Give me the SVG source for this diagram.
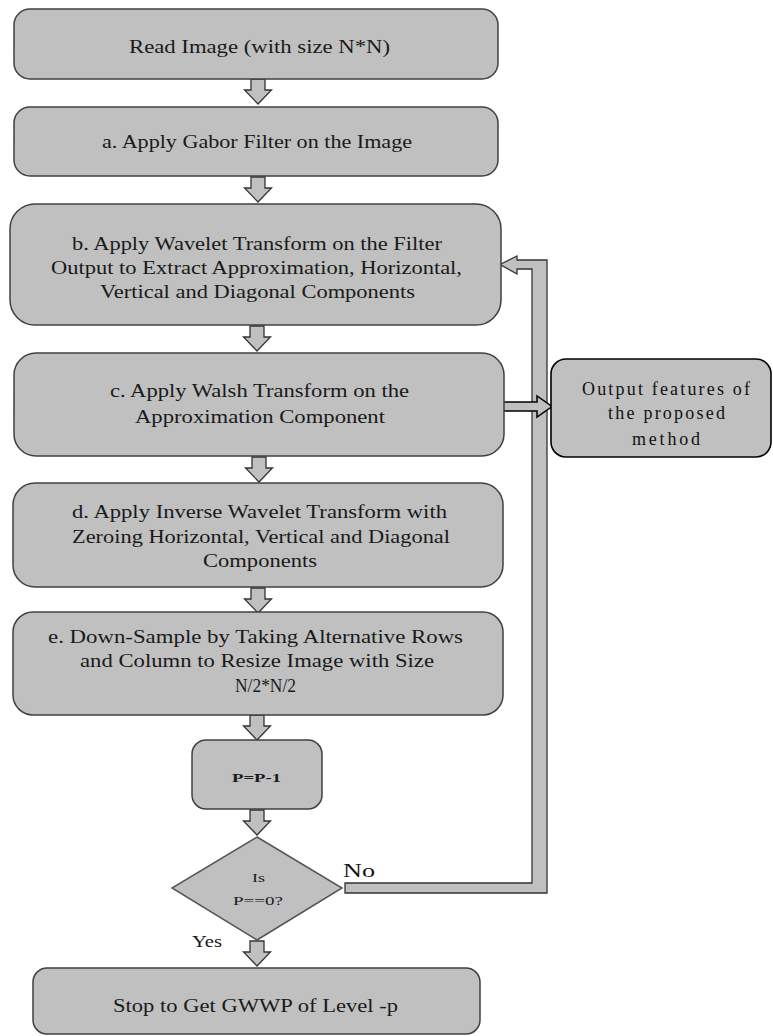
<svg xmlns="http://www.w3.org/2000/svg" width="773" height="1036" viewBox="0 0 773 1036">
<style>
.box{fill:#c0c0c0;stroke:#404040;stroke-width:1.5}
.out{fill:#c0c0c0;stroke:#000;stroke-width:1.6}
.arr{fill:#c0c0c0;stroke:#333;stroke-width:1.3;stroke-linejoin:miter}
.t{font-family:"Liberation Serif","Times New Roman",serif;font-size:19px;fill:#1a1a1a}
.s{font-family:"Liberation Serif","Times New Roman",serif;font-size:13px;fill:#1a1a1a}
.o{font-family:"Liberation Serif","Times New Roman",serif;font-size:18px;fill:#111}
</style>
<defs>
<path id="down" d="M-7,0 H7 V11 H13.5 L0,25 L-13.5,11 H-7 Z"/>
</defs>
<g id="connectors">
<use href="#down" class="arr" x="258" y="79"/>
<use href="#down" class="arr" x="258" y="177"/>
<use href="#down" class="arr" x="257" y="326"/>
<use href="#down" class="arr" x="259" y="457"/>
<use href="#down" class="arr" x="258" y="588"/>
<use href="#down" class="arr" x="257" y="715"/>
<use href="#down" class="arr" x="257" y="810"/>
<use href="#down" class="arr" x="257" y="941"/>
<polygon class="arr" points="500,264.5 517,256 517,260 547,260 547,893 345,893 345,883 532,883 532,269 517,269 517,274"/>
<polygon class="arr" style="stroke:#000;stroke-width:1.5" points="493,402 537,402 537,396 552,406.5 537,417 537,411 493,411"/>
<text class="o" x="343" y="877" textLength="32" lengthAdjust="spacingAndGlyphs">No</text>
<text class="t" x="192" y="947" font-size="16" style="font-size:16px" textLength="30" lengthAdjust="spacingAndGlyphs">Yes</text>
</g>
<g id="read">
<rect class="box" x="14" y="9" width="484" height="70" rx="16"/>
<text class="t" x="129" y="53" textLength="261" lengthAdjust="spacingAndGlyphs">Read Image (with size N*N)</text>
</g>
<g id="gabor">
<rect class="box" x="14" y="107" width="484" height="69" rx="16"/>
<text class="t" x="102" y="148" textLength="310" lengthAdjust="spacingAndGlyphs">a. Apply Gabor Filter on the Image</text>
</g>
<g id="wavelet">
<rect class="box" x="10" y="204" width="491" height="121" rx="25"/>
<text class="t" x="72" y="250" textLength="370" lengthAdjust="spacingAndGlyphs">b. Apply Wavelet Transform on the Filter</text>
<text class="t" x="51" y="274" textLength="411" lengthAdjust="spacingAndGlyphs">Output to Extract Approximation, Horizontal,</text>
<text class="t" x="100" y="298" textLength="315" lengthAdjust="spacingAndGlyphs">Vertical and Diagonal Components</text>
</g>
<g id="walsh">
<rect class="box" x="14" y="353" width="490" height="103" rx="22"/>
<text class="t" x="110" y="397" textLength="299" lengthAdjust="spacingAndGlyphs">c. Apply Walsh Transform on the</text>
<text class="t" x="135" y="423" textLength="250" lengthAdjust="spacingAndGlyphs">Approximation Component</text>
</g>
<g id="inverse">
<rect class="box" x="13" y="483" width="490" height="104" rx="22"/>
<text class="t" x="72" y="518" textLength="375" lengthAdjust="spacingAndGlyphs">d. Apply Inverse Wavelet Transform with</text>
<text class="t" x="72" y="543" textLength="378" lengthAdjust="spacingAndGlyphs">Zeroing Horizontal, Vertical and Diagonal</text>
<text class="t" x="203" y="567" textLength="114" lengthAdjust="spacingAndGlyphs">Components</text>
</g>
<g id="downsample">
<rect class="box" x="13" y="612" width="490" height="103" rx="20"/>
<text class="t" x="48" y="643" textLength="415" lengthAdjust="spacingAndGlyphs">e. Down-Sample by Taking Alternative Rows</text>
<text class="t" x="80" y="667" textLength="354" lengthAdjust="spacingAndGlyphs">and Column to Resize Image with Size</text>
<text class="t" x="235" y="692" textLength="61" lengthAdjust="spacingAndGlyphs">N/2*N/2</text>
</g>
<g id="decrement">
<rect class="box" x="192" y="740" width="130" height="69" rx="14"/>
<text class="s" x="232" y="782" font-weight="bold" textLength="49" lengthAdjust="spacingAndGlyphs">P=P-1</text>
</g>
<g id="decision">
<polygon class="box" style="stroke:#555" points="257,837 342,888 257,940 172,888"/>
<text class="s" x="252" y="882" textLength="13" lengthAdjust="spacingAndGlyphs">Is</text>
<text class="s" x="233" y="905" textLength="50" lengthAdjust="spacingAndGlyphs">P==0?</text>
</g>
<g id="stop">
<rect class="box" x="33" y="968" width="447" height="66" rx="14"/>
<text class="t" x="113" y="1012" textLength="285" lengthAdjust="spacingAndGlyphs">Stop to Get GWWP of Level -p</text>
</g>
<g id="output">
<rect class="out" x="551" y="359" width="220" height="98" rx="15"/>
<text class="o" x="582" y="395" textLength="168" lengthAdjust="spacing">Output features of</text>
<text class="o" x="608" y="419" textLength="117" lengthAdjust="spacing">the proposed</text>
<text class="o" x="632" y="445" textLength="68" lengthAdjust="spacing">method</text>
</g>
</svg>
